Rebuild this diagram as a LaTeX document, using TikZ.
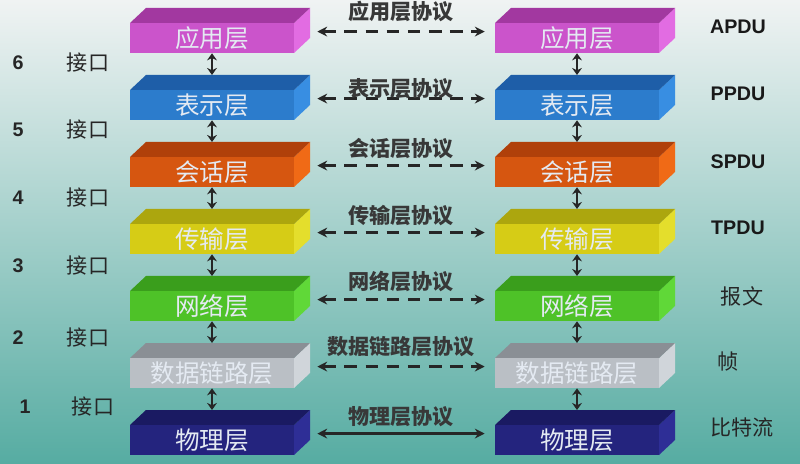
\documentclass[tikz,border=0pt]{standalone}
\usepackage{fontspec}
\usepackage{tikz}
\usetikzlibrary{arrows.meta}
\newfontfamily\cjk{Noto Sans CJK SC}
\newfontfamily\latin{Liberation Sans}

\definecolor{bgtop}{RGB}{240,243,243}
\definecolor{bgmid}{RGB}{182,216,212}
\definecolor{bgbot}{RGB}{86,172,162}
\definecolor{slabtext}{RGB}{228,234,242}
\definecolor{appfront}{RGB}{203,84,203}
\definecolor{apptop}{RGB}{162,56,160}
\definecolor{appside}{RGB}{226,108,226}
\definecolor{presfront}{RGB}{44,124,204}
\definecolor{prestop}{RGB}{30,94,168}
\definecolor{presside}{RGB}{56,142,226}
\definecolor{sessfront}{RGB}{214,86,16}
\definecolor{sesstop}{RGB}{176,64,10}
\definecolor{sessside}{RGB}{240,106,22}
\definecolor{transfront}{RGB}{214,204,22}
\definecolor{transtop}{RGB}{172,166,14}
\definecolor{transside}{RGB}{228,222,44}
\definecolor{netfront}{RGB}{78,194,40}
\definecolor{nettop}{RGB}{58,158,28}
\definecolor{netside}{RGB}{96,216,56}
\definecolor{linkfront}{RGB}{186,191,197}
\definecolor{linktop}{RGB}{138,143,149}
\definecolor{linkside}{RGB}{208,213,218}
\definecolor{physfront}{RGB}{36,36,126}
\definecolor{phystop}{RGB}{26,26,98}
\definecolor{physside}{RGB}{46,46,150}

\tikzset{
	slabface/.style={minimum width=4.1cm, minimum height=0.75cm, inner sep=0pt, text=slabtext, font=\cjk\fontsize{17.5}{17.5}\selectfont},
	updown/.style={{Stealth[length=5pt,width=7pt]}-{Stealth[length=5pt,width=7pt]}, line width=1.5pt, black!85},
	peer/.style={{Stealth[length=7pt,width=7pt]}-{Stealth[length=7pt,width=7pt]}, line width=2pt, black!85},
	peerdash/.style={peer, dash pattern=on 9pt off 6pt},
	protolabel/.style={font=\cjk\bfseries\fontsize{15}{15}\selectfont, text=black!78},
	iflabel/.style={font=\cjk\fontsize{15}{15}\selectfont, text=black!85},
	numlabel/.style={font=\latin\bfseries\fontsize{14}{14}\selectfont, text=black!85},
	pdulabel/.style={font=\latin\bfseries\fontsize{14}{14}\selectfont, text=black!90}
}

% one 3d slab: (centre x, centre y) {name} {colour prefix} {text}
\def\slab(#1,#2)#3#4#5{
	\fill[#4side] ({#1+82},{#2-15}) -- ({#1+98},{#2-30}) -- ({#1+98},{#2}) -- ({#1+82},{#2+15}) -- cycle;
	\fill[#4top] ({#1-82},{#2-15}) -- ({#1-66},{#2-30}) -- ({#1+98},{#2-30}) -- ({#1+82},{#2-15}) -- cycle;
	\node[slabface, fill=#4front] (#3) at (#1,#2) {#5};
	\coordinate (#3-top) at (#1,{#2-30});
}

\begin{document}
\begin{tikzpicture}[x=0.025cm, y=-0.025cm]
		%%%%% START %%%%%
		
		\shade[top color=bgtop, middle color=bgmid, bottom color=bgbot] (0,0) rectangle (800,464);
		\useasboundingbox (0,0) rectangle (800,464);
		
		% left stack
		\slab(212,38){app-l}{app}{应用层}
		\slab(212,105){pres-l}{pres}{表示层}
		\slab(212,172){sess-l}{sess}{会话层}
		\slab(212,239){trans-l}{trans}{传输层}
		\slab(212,306){net-l}{net}{网络层}
		\slab(212,373){link-l}{link}{数据链路层}
		\slab(212,440){phys-l}{phys}{物理层}
		
		% right stack
		\slab(577,38){app-r}{app}{应用层}
		\slab(577,105){pres-r}{pres}{表示层}
		\slab(577,172){sess-r}{sess}{会话层}
		\slab(577,239){trans-r}{trans}{传输层}
		\slab(577,306){net-r}{net}{网络层}
		\slab(577,373){link-r}{link}{数据链路层}
		\slab(577,440){phys-r}{phys}{物理层}
		
		% interfaces
		\draw[updown] (app-l.south) -- (pres-l-top);
		\draw[updown] (pres-l.south) -- (sess-l-top);
		\draw[updown] (sess-l.south) -- (trans-l-top);
		\draw[updown] (trans-l.south) -- (net-l-top);
		\draw[updown] (net-l.south) -- (link-l-top);
		\draw[updown] (link-l.south) -- (phys-l-top);
		
		\draw[updown] (app-r.south) -- (pres-r-top);
		\draw[updown] (pres-r.south) -- (sess-r-top);
		\draw[updown] (sess-r.south) -- (trans-r-top);
		\draw[updown] (trans-r.south) -- (net-r-top);
		\draw[updown] (net-r.south) -- (link-r-top);
		\draw[updown] (link-r.south) -- (phys-r-top);
		
		% peer protocols
		\draw[peerdash] ([xshift=0.575cm,yshift=0.16cm]app-l.east) -- ([xshift=-0.25cm,yshift=0.16cm]app-r.west) node[protolabel, midway, yshift=0.5cm] (p-app) {应用层协议};
		\draw[peerdash] ([xshift=0.575cm,yshift=0.16cm]pres-l.east) -- ([xshift=-0.25cm,yshift=0.16cm]pres-r.west) node[protolabel, midway, yshift=0.25cm] (p-pres) {表示层协议};
		\draw[peerdash] ([xshift=0.575cm,yshift=0.16cm]sess-l.east) -- ([xshift=-0.25cm,yshift=0.16cm]sess-r.west) node[protolabel, midway, yshift=0.43cm] (p-sess) {会话层协议};
		\draw[peerdash] ([xshift=0.575cm,yshift=0.16cm]trans-l.east) -- ([xshift=-0.25cm,yshift=0.16cm]trans-r.west) node[protolabel, midway, yshift=0.43cm] (p-trans) {传输层协议};
		\draw[peerdash] ([xshift=0.575cm,yshift=0.16cm]net-l.east) -- ([xshift=-0.25cm,yshift=0.16cm]net-r.west) node[protolabel, midway, yshift=0.45cm] (p-net) {网络层协议};
		\draw[peerdash] ([xshift=0.575cm,yshift=0.16cm]link-l.east) -- ([xshift=-0.25cm,yshift=0.16cm]link-r.west) node[protolabel, midway, yshift=0.5cm] (p-link) {数据链路层协议};
		\draw[peer] ([xshift=0.575cm,yshift=0.16cm]phys-l.east) -- ([xshift=-0.25cm,yshift=0.16cm]phys-r.west) node[protolabel, midway, yshift=0.43cm] (p-phys) {物理层协议};
		
		% interface numbers
		\node[numlabel] (n6) at (18,63) {6};
		\node[iflabel] (i6) at (88,63) {接口};
		\node[numlabel] (n5) at (18,130) {5};
		\node[iflabel] (i5) at (88,130) {接口};
		\node[numlabel] (n4) at (18,198) {4};
		\node[iflabel] (i4) at (88,198) {接口};
		\node[numlabel] (n3) at (18,266) {3};
		\node[iflabel] (i3) at (88,266) {接口};
		\node[numlabel] (n2) at (18,338) {2};
		\node[iflabel] (i2) at (88,338) {接口};
		\node[numlabel] (n1) at (25,407) {1};
		\node[iflabel] (i1) at (93,407) {接口};
		
		% data units
		\node[pdulabel] (u-app) at (738,27) {APDU};
		\node[pdulabel] (u-pres) at (738,94) {PPDU};
		\node[pdulabel] (u-sess) at (738,162) {SPDU};
		\node[pdulabel] (u-trans) at (738,228) {TPDU};
		\node[iflabel] (u-net) at (742,296) {报文};
		\node[iflabel] (u-link) at (728,362) {帧};
		\node[iflabel] (u-phys) at (742,427) {比特流};
		
		%%%%% END %%%%%
\end{tikzpicture}
\end{document}
